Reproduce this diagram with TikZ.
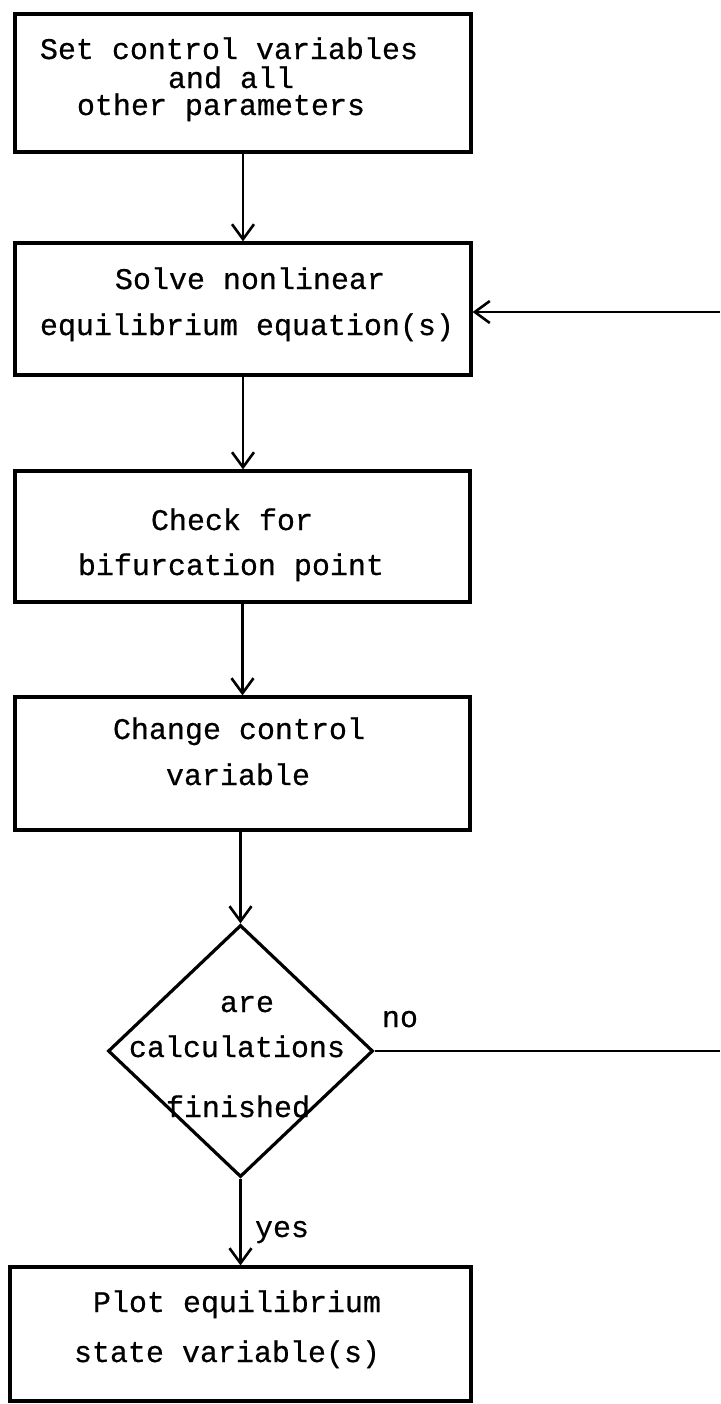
\documentclass[tikz,border=0pt]{standalone}
\usepackage{fontspec}
\newfontfamily\mono[RawFeature={embolden=0.5}]{Liberation Mono}
\usetikzlibrary{arrows.meta,shapes.geometric}
\begin{document}
\begin{tikzpicture}[x=0.5pt,y=-0.5pt,
  box/.style={draw, rectangle, line width=1.6pt, inner sep=0pt},
  dia/.style={draw, diamond, line width=1.6pt, inner sep=0pt},
  ln/.style={font=\mono\fontsize{15}{18}\selectfont, anchor=base, inner sep=0pt, text height=7pt, text depth=1.5pt},
  flow/.style={line width=1.3pt, -{Straight Barb[length=7.5pt,width=11pt,line width=1.3pt]}},
  plain/.style={line width=1.4pt}]
\useasboundingbox (0,0) rectangle (720,1404);
\fill[white] (0,0) rectangle (720,1404);

% boxes
\node[box, minimum width=228pt, minimum height=69pt] (b1) at (243,83) {};
\node[box, minimum width=228pt, minimum height=66pt] (b2) at (243,309) {};
\node[box, minimum width=227.5pt, minimum height=65.5pt] (b3) at (242.5,536.5) {};
\node[box, minimum width=227.5pt, minimum height=66.5pt] (b4) at (242.5,763.5) {};
\node[dia, minimum width=132.5pt, minimum height=126pt] (d) at (240.5,1051) {};
\node[box, minimum width=230.5pt, minimum height=67pt] (b5) at (240.5,1334) {};

% texts
\node[ln] (t1a) at (229,59) {Set control variables};
\node[ln] (t1b) at (231,88) {and all};
\node[ln] (t1c) at (221,115) {other parameters};
\node[ln] (t2a) at (250,289) {Solve nonlinear};
\node[ln] (t2b) at (247,335) {equilibrium equation(s)};
\node[ln] (t3a) at (232,530) {Check for};
\node[ln] (t3b) at (231,575) {bifurcation point};
\node[ln] (t4a) at (239,739) {Change control};
\node[ln] (t4b) at (238,785) {variable};
\node[ln] (q1) at (247,1012) {are};
\node[ln] (q2) at (237,1057) {calculations};
\node[ln] (q3) at (238,1117) {finished};
\node[ln] (t5a) at (237,1312) {Plot equilibrium};
\node[ln] (t5b) at (227,1362) {state variable(s)};
\node[ln] (no) at (400,1027) {no};
\node[ln] (yes) at (282,1237) {yes};

% connectors
\coordinate (r1) at (720,312);
\coordinate (r2) at (720,1051);
\draw[flow] (b1.south) -- (b1.south |- b2.north);
\draw[flow] (b2.south) -- (b2.south |- b3.north);
\draw[flow] (b3.south) -- (b3.south |- b4.north);
\draw[flow] (d.north |- b4.south) -- (d.north);
\draw[flow] (d.south) -- (d.south |- b5.north);
\draw[flow] (r1) -- (r1 -| b2.east);
\draw[plain] (d.east) -- (r2);
\end{tikzpicture}
\end{document}
